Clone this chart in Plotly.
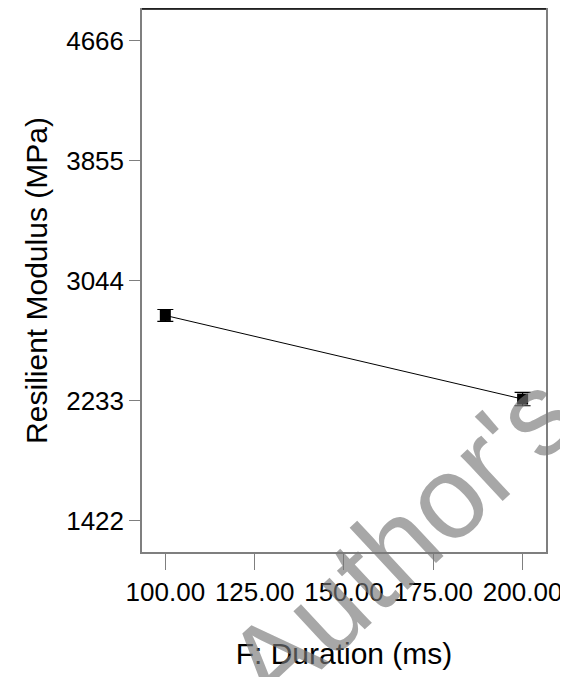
import plotly.graph_objects as go

durations = [100, 200]
modulus = [2810, 2245]
lsd_half = [40, 45]
y_ticks = [1422, 2233, 3044, 3855, 4666]
x_ticks = [100, 125, 150, 175, 200]
x_tick_text = ["100.00", "125.00", "150.00", "175.00", "200.00"]

FONT = "Liberation Sans, Arial, sans-serif"
AXIS_GRAY = "#7f7f7f"

fig = go.Figure()
fig.add_trace(go.Scatter(
    x=durations, y=modulus, mode="lines",
    line=dict(color="black", width=1), showlegend=False, hoverinfo="skip"))
fig.add_trace(go.Scatter(
    x=durations, y=modulus, mode="markers",
    marker=dict(symbol="square", size=11, color="black"),
    error_y=dict(type="data", array=lsd_half, color="black", thickness=1.2, width=8),
    showlegend=False))

fig.update_layout(
    width=568, height=677,
    margin=dict(l=134, r=30, t=1, b=133),
    plot_bgcolor="white", paper_bgcolor="white",
    font=dict(family=FONT, color="black"),
    xaxis=dict(
        range=[93.47, 206.55], tickvals=x_ticks, ticktext=x_tick_text,
        showgrid=False, zeroline=False, showline=True, linecolor=AXIS_GRAY,
        linewidth=1.5, mirror=True, automargin=False,
        ticks="outside", ticklen=16, tickcolor=AXIS_GRAY, tickwidth=1.2,
        tickfont=dict(size=26, family=FONT),
        title=dict(text="F: Duration (ms)", font=dict(size=30, family=FONT), standoff=37)),
    yaxis=dict(
        range=[1212, 4880], tickvals=y_ticks, ticktext=[str(v) for v in y_ticks],
        showgrid=False, zeroline=False, showline=True, linecolor=AXIS_GRAY,
        linewidth=1.5, mirror=True, automargin=False,
        ticks="outside", ticklen=11, tickcolor=AXIS_GRAY, tickwidth=1.2,
        tickfont=dict(size=26, family=FONT),
        title=dict(text="Resilient Modulus (MPa)", font=dict(size=30, family=FONT), standoff=10)),
    shapes=[dict(type="line", xref="paper", yref="paper", x0=0, x1=1, y0=1, y1=1,
                 line=dict(color="black", width=1.5))],
    annotations=[dict(
        text="Author's", xref="paper", yref="paper",
        x=0.64, y=0.022, xanchor="center", yanchor="middle", showarrow=False,
        textangle=-43, font=dict(size=117, family=FONT, color="rgba(120,120,120,0.65)"))],
)

fig.write_html("out.html")
